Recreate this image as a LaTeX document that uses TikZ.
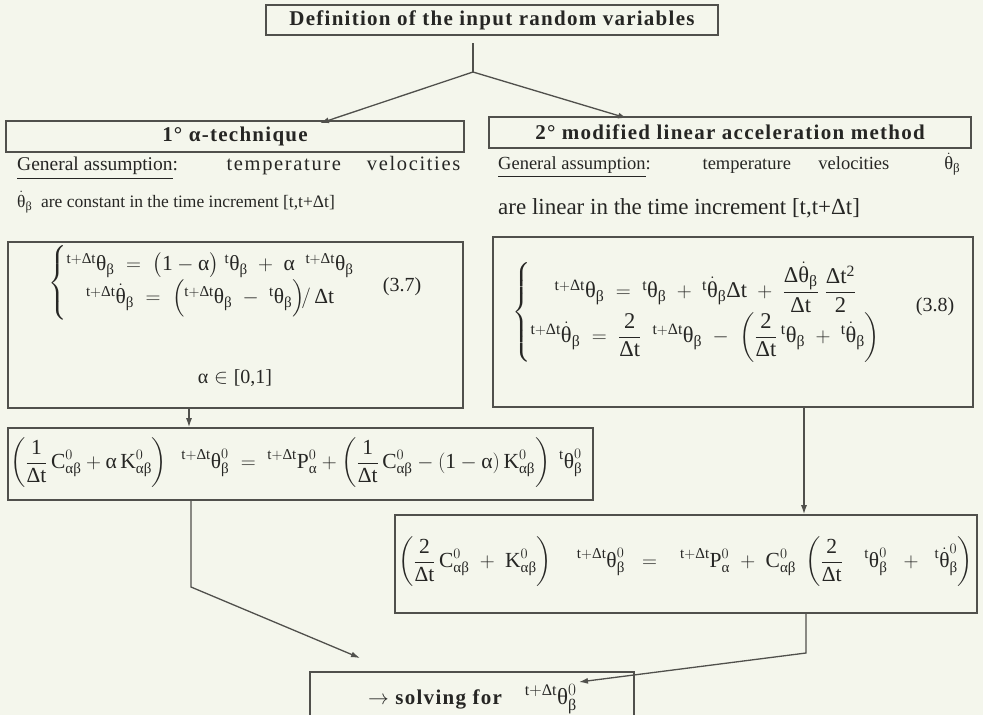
\documentclass[tikz,border=0pt]{standalone}
\usepackage{amsmath}
\usepackage{fontspec}
\setmainfont{Liberation Serif}
\newfontfamily\hdfont{Liberation Serif}[LetterSpace=6]
\newfontfamily\lsfont{Liberation Serif}[LetterSpace=8]
\usetikzlibrary{arrows.meta}
\definecolor{bg}{RGB}{244,246,236}
\definecolor{lnc}{RGB}{80,80,76}
\definecolor{tx}{RGB}{38,38,36}
\newcommand\Gt{\text{θ}}
\newcommand\Gb{\text{β}}
\newcommand\Ga{\text{α}}
\newcommand\GD{\text{Δ}}
\newcommand\Tt{\mathrm{t}}
\newcommand\tD{\mathrm{t}+\GD\mathrm{t}}
\newcommand\one{\mathrm{1}}
\newcommand\two{\mathrm{2}}
\newcommand\fs{\fontsize{20}{24}\selectfont}
\newcommand\fsl{\fontsize{17.5}{21}\selectfont}
\newcommand\fm{\fontsize{21.5}{26}\selectfont}
\newcommand\fh{\fontsize{21}{25}\selectfont\hdfont\bfseries}
\begin{document}
\begin{tikzpicture}[x=1pt,y=-1pt,
  every node/.style={text=tx,font=\fs,inner sep=0pt},
  box/.style={draw=lnc,line width=1.6pt},
  conn/.style={draw=lnc,line width=1.3pt},
  arr/.style={draw=lnc,line width=1.3pt,-{Latex[length=9pt,width=6pt]}}]
\fill[bg] (0,0) rectangle (983,715);
\useasboundingbox (0,0) rectangle (983,715);
% top
\node[box,minimum width=452,minimum height=30,font=\fh] (top) at (492,20) {Definition of the input random variables};
\coordinate (s0) at (473,43);
\coordinate (j) at (473,72);
% headers
\node[box,minimum width=458,minimum height=31,font=\fh] (h1) at (235,136.5) {1° α-technique};
\node[box,minimum width=482,minimum height=31,font=\fh] (h2) at (730,132.5) {2° modified linear acceleration method};
\coordinate (e1) at (320,0);
\coordinate (e2) at (627,0);
\draw[conn] (s0) -- (j);
\draw[arr] (j) -- ([yshift=-3pt]h1.north -| e1);
\draw[arr] (j) -- ([yshift=-2pt]h2.north -| e2);
% assumptions
\node[anchor=west,font=\fontsize{19.5}{23}\selectfont] (ga1) at (17,168) {\makebox[443pt][s]{\underline{General assumption}: {\lsfont\fontsize{20.5}{23}\selectfont temperature} {\lsfont\fontsize{20.5}{23}\selectfont velocities}}};
\node[anchor=west,font=\fsl] (ga2) at (17,202) {$\dot{\Gt}_{\Gb}$\ \ are constant in the time increment [t,t+Δt]};
\node[anchor=west,font=\fontsize{18.5}{22}\selectfont] (gb1) at (498,165) {\makebox[462pt][s]{\underline{General assumption}: temperature velocities \ $\dot{\Gt}_{\Gb}$}};
\node[anchor=west,font=\fontsize{23}{27}\selectfont] (gb2) at (498,208) {are linear in the time increment [t,t+Δt]};
% equation boxes
\node[box,minimum width=455,minimum height=166] (eq1) at (235.5,325) {};
\node[anchor=west,font=\fm] (s37) at (48,283) {$\left\{\renewcommand\arraystretch{1.2}\begin{array}{@{}c@{}}
 {}^{\tD}\Gt_{\Gb} \;=\; \bigl(\one-\Ga\bigr)\;{}^{\Tt}\Gt_{\Gb} \;+\; \Ga\ \ {}^{\tD}\Gt_{\Gb}\\
 {}^{\tD}\dot{\Gt}_{\Gb} \;=\; \Bigl({}^{\tD}\Gt_{\Gb} \;-\; {}^{\Tt}\Gt_{\Gb}\Bigr)\!/\,\GD\Tt
 \end{array}\right.$};
\node (n37) at (402,287) {(3.7)};
\node (al) at (235,378) {$\Ga\in\text{[0,1]}$};
\node[box,minimum width=480,minimum height=170] (eq2) at (733,322) {};
\node[anchor=west,font=\fontsize{22.5}{27}\selectfont] (s38) at (512,312) {$\left\{\renewcommand\arraystretch{1.3}\begin{array}{@{}c@{}}
 {}^{\tD}\Gt_{\Gb} \;=\; {}^{\Tt}\Gt_{\Gb} \;+\; {}^{\Tt}\dot{\Gt}_{\Gb}\GD\Tt \;+\; \dfrac{\GD\dot{\Gt}_{\Gb}}{\GD\Tt}\;\dfrac{\GD\Tt^{\two}}{\two}\\
 {}^{\tD}\dot{\Gt}_{\Gb} \;=\; \dfrac{\two}{\GD\Tt}\ \ {}^{\tD}\Gt_{\Gb} \;-\; \left(\dfrac{\two}{\GD\Tt}\,{}^{\Tt}\Gt_{\Gb} \;+\; {}^{\Tt}\dot{\Gt}_{\Gb}\right)
 \end{array}\right.$};
\node (n38) at (935,307) {(3.8)};
% box 3
\node[box,minimum width=585,minimum height=72] (b3) at (300.5,464) {};
\node[anchor=west,font=\fm] (f3) at (10,463) {$\displaystyle\left(\frac{\one}{\GD\Tt}\,\mathrm{C}^0_{\Ga\Gb} + \Ga\,\mathrm{K}^0_{\Ga\Gb}\right)\ \ {}^{\tD}\Gt^0_{\Gb} \;=\; {}^{\tD}\mathrm{P}^0_{\Ga} + \left(\frac{\one}{\GD\Tt}\,\mathrm{C}^0_{\Ga\Gb} - (\one-\Ga)\,\mathrm{K}^0_{\Ga\Gb}\right)\ {}^{\Tt}\Gt^0_{\Gb}$};
% box 4
\node[box,minimum width=582,minimum height=98] (b4) at (686,564) {};
\node[anchor=west,font=\fm] (f4) at (398,562) {$\displaystyle\left(\frac{\two}{\GD\Tt}\,\mathrm{C}^0_{\Ga\Gb} \;+\; \mathrm{K}^0_{\Ga\Gb}\right)\quad {}^{\tD}\Gt^0_{\Gb} \;\;=\;\;\; {}^{\tD}\mathrm{P}^0_{\Ga} \;+\; \mathrm{C}^0_{\Ga\Gb}\;\left(\frac{\two}{\GD\Tt}\quad {}^{\Tt}\Gt^0_{\Gb} \;\;+\;\; {}^{\Tt}\dot{\Gt}^0_{\Gb}\right)$};
% final
\node[box,minimum width=324,minimum height=48] (fin) at (472,696) {};
\node[anchor=west,font=\fontsize{23}{27}\selectfont] (ft) at (368,699) {{\fh $\rightarrow$ solving for}\quad ${}^{\tD}\Gt^0_{\Gb}$};
% connectors
\coordinate (c1) at (189,0);
\draw[arr] (eq1.south -| c1) -- (b3.north -| c1);
\coordinate (c2) at (804,0);
\draw[arr] (eq2.south -| c2) -- (b4.north -| c2);
\coordinate (k1) at (191,587);
\coordinate (t1) at (360,658);
\draw[arr] (b3.south -| k1) -- (k1) -- (t1);
\coordinate (k2) at (806,653);
\coordinate (t2) at (579,682);
\draw[arr] (b4.south -| k2) -- (k2) -- (t2);
\end{tikzpicture}
\end{document}
